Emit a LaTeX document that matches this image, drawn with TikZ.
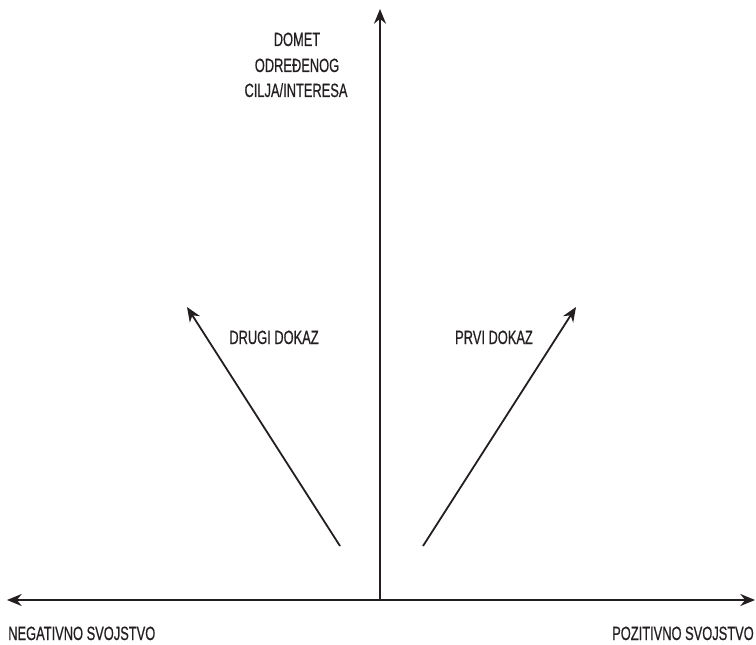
\documentclass[tikz,border=0pt]{standalone}
\usepackage{fontspec}
\setmainfont[FakeStretch=0.67,FakeBold=0.6]{Liberation Sans}
\usetikzlibrary{arrows.meta}
\definecolor{ink}{HTML}{231F20}
\tikzset{
  axis/.style={draw=ink, line width=1.35pt, -{Stealth[length=11pt,width=9pt]}},
  lbl/.style={text=ink, font=\fontsize{14.4}{17}\selectfont, inner sep=0pt},
}
\begin{document}
\begin{tikzpicture}[x=0.75pt,y=-0.75pt]
\useasboundingbox (0,0) rectangle (756,645);
\coordinate (O) at (380,600);
\coordinate (L) at (7,600);
\coordinate (R) at (755,600);
\coordinate (T) at (380,9);
\coordinate (d1) at (340,546);
\coordinate (d1t) at (187,307);
\coordinate (p1) at (423,546);
\coordinate (p1t) at (576,307);
\draw[axis] (O) -- (L);
\draw[axis] (O) -- (R);
\draw[axis] (O) -- (T);
\draw[axis] (d1) -- (d1t);
\draw[axis] (p1) -- (p1t);
\node[lbl, anchor=base] (t1) at (297,46) {DOMET};
\node[lbl, anchor=base] (t2) at (297,72) {ODREĐENOG};
\node[lbl, anchor=base] (t3) at (296,97) {CILJA/INTERESA};
\node[lbl, anchor=base] (drugi) at (274,344) {DRUGI DOKAZ};
\node[lbl, anchor=base] (prvi) at (494,344) {PRVI DOKAZ};
\node[lbl, anchor=base west] (neg) at (8,640) {NEGATIVNO SVOJSTVO};
\node[lbl, anchor=base east] (poz) at (754,640) {POZITIVNO SVOJSTVO};
\end{tikzpicture}
\end{document}
